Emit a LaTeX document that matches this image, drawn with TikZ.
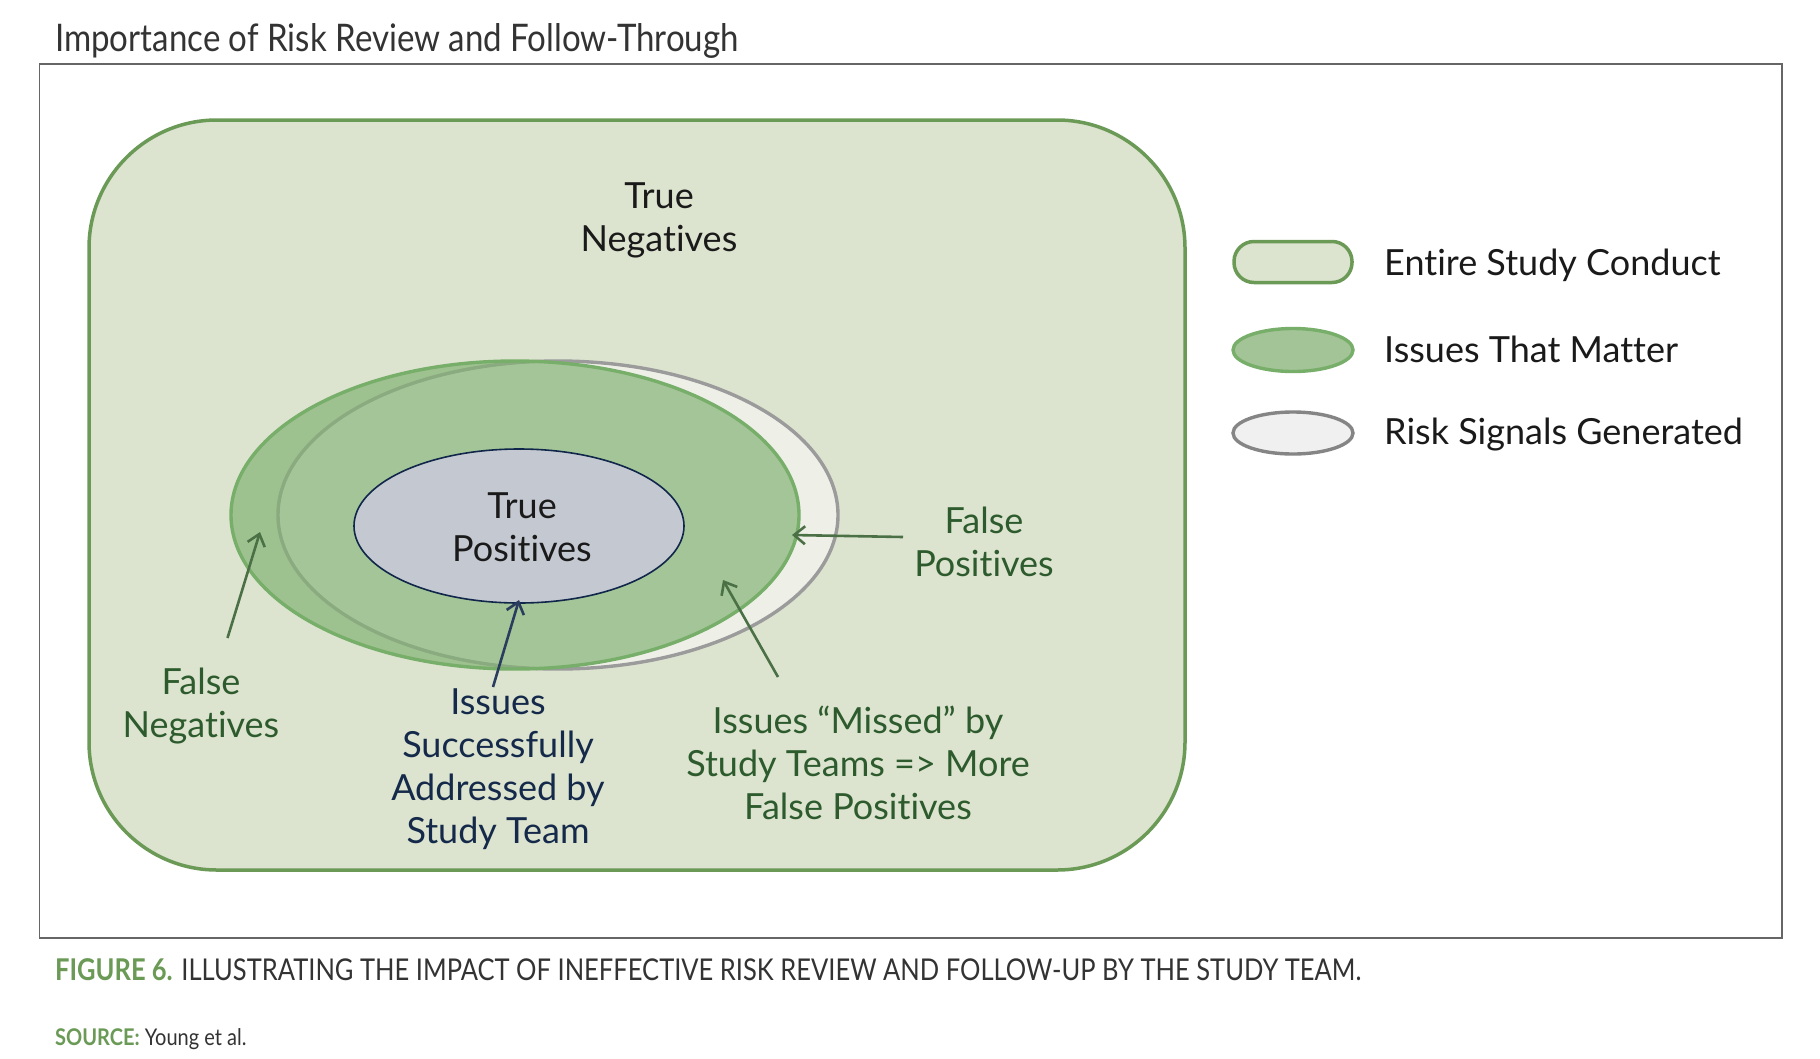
\documentclass[tikz,border=0pt]{standalone}
\usepackage{fontspec}
\setmainfont{Lato}[Ligatures=NoCommon]
\newfontfamily\condfont{Lato}[FakeStretch=0.87,Ligatures=NoCommon]
\newfontfamily\capfont{Lato}[FakeStretch=0.85,Ligatures=NoCommon]
\usetikzlibrary{arrows.meta,shapes.geometric}
\definecolor{sagebg}{HTML}{DCE4CF}
\definecolor{sagestroke}{HTML}{6B9A57}
\definecolor{framecol}{HTML}{666666}
\definecolor{greenfill}{HTML}{82B272}
\definecolor{greenlegend}{HTML}{A3C496}
\definecolor{greenstroke}{HTML}{77AE69}
\definecolor{grayfill}{HTML}{EEF0E8}
\definecolor{graystroke}{HTML}{9B9B9B}
\definecolor{tpfill}{HTML}{C4C9D1}
\definecolor{tpstroke}{HTML}{10264A}
\definecolor{dgtext}{HTML}{2D5B2D}
\definecolor{dgarrow}{HTML}{4B7045}
\definecolor{navytext}{HTML}{152A4A}
\definecolor{navyarrow}{HTML}{2B3D5E}
\definecolor{captiongreen}{HTML}{6A9A55}
\definecolor{captiontext}{HTML}{333333}
\definecolor{inktext}{HTML}{1A1A1A}
\tikzset{
  lbl/.style={align=center, inner sep=0pt, font=\fontsize{36}{43}\selectfont},
  legtext/.style={anchor=west, inner sep=0pt, text=inktext, font=\fontsize{36}{40}\selectfont},
  ptr/.style={line width=2.6pt, -{Straight Barb[length=11pt,width=18pt,line width=2.6pt]}},
}
\begin{document}
\begin{tikzpicture}[x=1pt,y=-1pt]
\useasboundingbox[fill=white] (0,0) rectangle (1820,1058);
% title
\node[anchor=west, inner sep=0pt, text=captiontext, font=\condfont\fontsize{38}{42}\selectfont] (title) at (55,41) {Importance of Risk Review and Follow-Through};
% frame
\node[draw=framecol, line width=1.4pt, minimum width=1742.5pt, minimum height=874pt, inner sep=0pt] (frame) at (910.75,501) {};
% entire study conduct
\node[draw=sagestroke, fill=sagebg, line width=3.5pt, rounded corners=128pt, minimum width=1096pt, minimum height=750pt, inner sep=0pt] (study) at (637,495) {};
% risk signals ellipse
\node[ellipse, draw=graystroke, fill=grayfill, line width=3.4pt, minimum width=560pt, minimum height=308pt, inner sep=0pt] (risk) at (558,515) {};
% issues that matter ellipse
\node[ellipse, fill=greenfill, fill opacity=0.68, minimum width=568pt, minimum height=308pt, inner sep=0pt] (matterfill) at (515,515) {};
\node[ellipse, draw=greenstroke, line width=3.4pt, minimum width=568pt, minimum height=308pt, inner sep=0pt] (matter) at (515,515) {};
% true positives
\node[ellipse, draw=tpstroke, fill=tpfill, line width=1.6pt, minimum width=330pt, minimum height=154pt, inner sep=0pt] (tp) at (519,526) {};
\node[lbl, text=inktext] (tptext) at (522,527) {True\\Positives};
% true negatives
\node[lbl, text=inktext] (tn) at (659,220.5) {True\\Negatives};
% labels
\node[lbl, text=dgtext] (fn) at (201,706) {False\\Negatives};
\node[lbl, text=navytext] (succ) at (498,769.5) {Issues\\Successfully\\Addressed by\\Study Team};
\node[lbl, text=dgtext] (missed) at (858,763) {Issues “Missed” by\\Study Teams => More\\False Positives};
\node[lbl, text=dgtext] (fp) at (984,542) {False\\Positives};
% arrow coordinates
\coordinate (fnS) at (227.5,638);
\coordinate (fnE) at (260,532);
\coordinate (succS) at (493,687);
\coordinate (succE) at (519,600);
\coordinate (misS) at (778,677);
\coordinate (misE) at (723,580);
\coordinate (fpS) at (903,537);
\coordinate (fpE) at (792,535);
\draw[ptr, dgarrow] (fnS) -- (fnE);
\draw[ptr, navyarrow] (succS) -- (succE);
\draw[ptr, dgarrow] (misS) -- (misE);
\draw[ptr, dgarrow] (fpS) -- (fpE);
% legend
\node[draw=sagestroke, fill=sagebg, line width=3.5pt, rounded corners=20pt, minimum width=118pt, minimum height=41pt, inner sep=0pt] (leg1) at (1293,262) {};
\node[legtext] (leg1t) at (1384,265) {Entire Study Conduct};
\node[ellipse, draw=greenstroke, fill=greenlegend, line width=3.4pt, minimum width=120pt, minimum height=43pt, inner sep=0pt] (leg2) at (1293,350) {};
\node[legtext] (leg2t) at (1384,349) {Issues That Matter};
\node[ellipse, draw=framecol!80!white, fill=white!94!black, line width=3.4pt, minimum width=120pt, minimum height=42pt, inner sep=0pt] (leg3) at (1293,433) {};
\node[legtext] (leg3t) at (1384,435) {Risk Signals Generated};
% caption
\node[anchor=west, inner sep=0pt, font=\capfont\fontsize{30}{34}\selectfont] (caption) at (55,970) {\textcolor{captiongreen}{\bfseries FIGURE 6.} \textcolor{captiontext}{ILLUSTRATING THE IMPACT OF INEFFECTIVE RISK REVIEW AND FOLLOW-UP BY THE STUDY TEAM.}};
\node[anchor=west, inner sep=0pt, font=\condfont\fontsize{23}{27}\selectfont] (source) at (55,1039) {\textcolor{captiongreen}{\bfseries SOURCE:} \textcolor{captiontext}{Young et al.}};
\end{tikzpicture}
\end{document}
